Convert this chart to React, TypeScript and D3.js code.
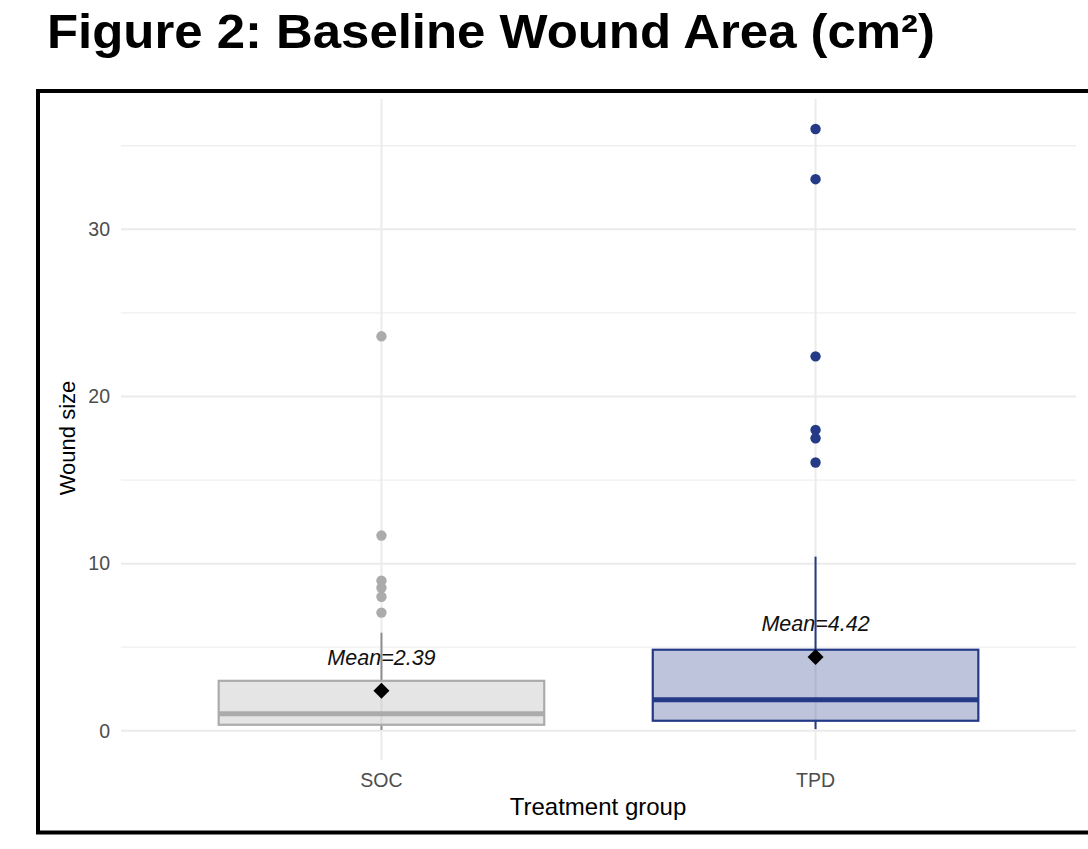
import React from "react";
import * as d3 from "d3";

const categories = ["SOC", "TPD"];
const whiskerLow = [0.05, 0.1];
const q1 = [0.36, 0.6];
const median = [1.02, 1.86];
const q3 = [2.99, 4.85];
const whiskerHigh = [5.87, 10.42];
const means = [2.39, 4.42];
const meanLabels = ["Mean=2.39", "Mean=4.42"];
const socOutliers = [7.07, 8.02, 8.56, 8.98, 11.68, 23.6];
const tpdOutliers = [16.05, 17.5, 18.0, 22.4, 33.0, 36.0];
const majorTicks = [0, 10, 20, 30];
const minorTicks = [5, 15, 25, 35];

const strokeColors = ["#ABABAB", "#253A87"];
const fillColors = ["rgba(170,170,170,0.3)", "rgba(37,58,135,0.3)"];
const whiskerColors = ["#8F8F8F", "#253A87"];

export default function App() {
  const W = 1088, H = 849;
  const left = 121, right = 1076, top = 99, bottom = 760;
  const outliers = [socOutliers, tpdOutliers];
  const allVals = [...whiskerLow, ...socOutliers, ...tpdOutliers];
  const lo = d3.min(allVals) as number;
  const hi = d3.max(allVals) as number;
  const pad = (hi - lo) * 0.05;
  const y = d3.scaleLinear().domain([lo - pad, hi + pad]).range([bottom, top]);
  const x = d3.scalePoint<string>().domain(categories).range([left, right]).padding(0.6);
  const step = x.step();
  const bw = step * 0.75;
  const diamond = d3.symbol().type(d3.symbolSquare).size(128)() as string;

  return (
    <svg width={W} height={H} style={{ position: "absolute", left: 0, top: 0 }} xmlns="http://www.w3.org/2000/svg">
      <rect x={0} y={0} width={W} height={H} fill="#fff" />
      <text x={47} y={48} fontFamily="'Liberation Sans', Arial, sans-serif" fontWeight={700} fontSize={49} textLength={888} lengthAdjust="spacingAndGlyphs" fill="#000">
        Figure 2: Baseline Wound Area (cm²)
      </text>
      <rect x={38} y={91} width={1100} height={741.5} fill="none" stroke="#000" strokeWidth={4} />
      {/* grid */}
      {minorTicks.map((t) => (
        <line key={"mn" + t} x1={left} x2={right} y1={y(t)} y2={y(t)} stroke="#EFEFEF" strokeWidth={1.3} />
      ))}
      {majorTicks.map((t) => (
        <line key={"mj" + t} x1={left} x2={right} y1={y(t)} y2={y(t)} stroke="#EBEBEB" strokeWidth={2} />
      ))}
      {categories.map((c) => (
        <line key={"vg" + c} x1={x(c)} x2={x(c)} y1={top} y2={bottom} stroke="#EBEBEB" strokeWidth={2} />
      ))}
      {/* boxes */}
      {categories.map((c, i) => {
        const cx = x(c) as number;
        return (
          <g key={"b" + c}>
            <line x1={cx} x2={cx} y1={y(q3[i])} y2={y(whiskerHigh[i])} stroke={whiskerColors[i]} strokeWidth={2} />
            <line x1={cx} x2={cx} y1={y(q1[i])} y2={y(whiskerLow[i])} stroke={whiskerColors[i]} strokeWidth={2} />
            <rect x={cx - bw / 2} y={y(q3[i])} width={bw} height={y(q1[i]) - y(q3[i])} fill={fillColors[i]} stroke={strokeColors[i]} strokeWidth={2.2} />
            <line x1={cx - bw / 2} x2={cx + bw / 2} y1={y(median[i])} y2={y(median[i])} stroke={strokeColors[i]} strokeWidth={5} />
            {outliers[i].map((v, j) => (
              <circle key={j} cx={cx} cy={y(v)} r={5.2} fill={strokeColors[i]} />
            ))}
            <path d={diamond} transform={`translate(${cx},${y(means[i])}) rotate(45)`} fill="#000" />
            <text x={cx} y={y(means[i] + 1.55)} textAnchor="middle" fontFamily="'Liberation Sans', Arial, sans-serif" fontStyle="italic" fontSize={21.5} fill="#111">
              {meanLabels[i]}
            </text>
          </g>
        );
      })}
      {/* axis labels */}
      {majorTicks.map((t) => (
        <text key={"yt" + t} x={110} y={y(t)} dy="0.35em" textAnchor="end" fontFamily="'Liberation Sans', Arial, sans-serif" fontSize={19.5} fill="#4D4D4D">
          {t}
        </text>
      ))}
      {categories.map((c) => (
        <text key={"xt" + c} x={x(c)} y={787} textAnchor="middle" fontFamily="'Liberation Sans', Arial, sans-serif" fontSize={19.5} fill="#4D4D4D">
          {c}
        </text>
      ))}
      <text x={598} y={815} textAnchor="middle" fontFamily="'Liberation Sans', Arial, sans-serif" fontSize={24} fill="#000">
        Treatment group
      </text>
      <text transform={`translate(75,438) rotate(-90)`} textAnchor="middle" fontFamily="'Liberation Sans', Arial, sans-serif" fontSize={22} fill="#000">
        Wound size
      </text>
    </svg>
  );
}
